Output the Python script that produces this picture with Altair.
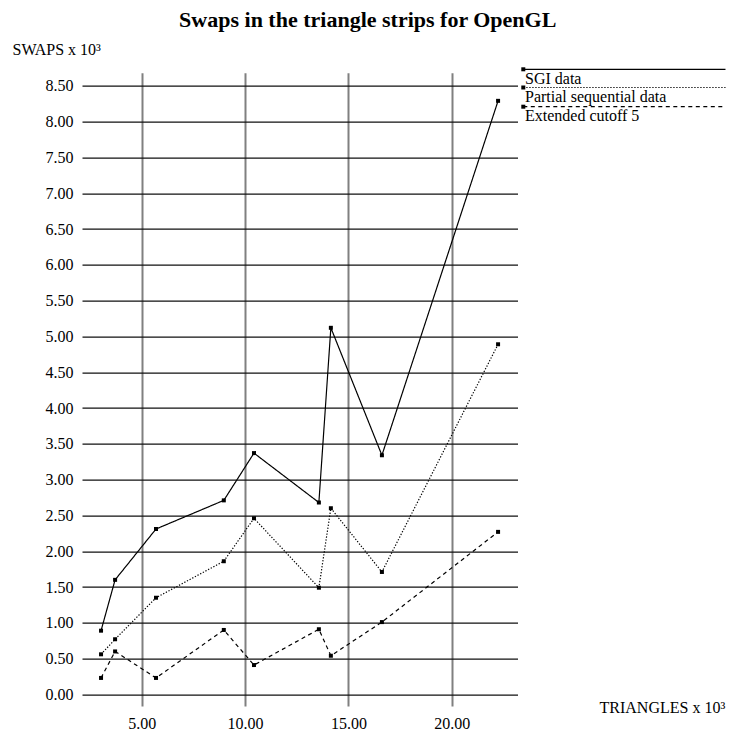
import altair as alt
import pandas as pd

# ---- data ----
triangles = [3.03, 3.71, 5.69, 8.97, 10.43, 13.57, 14.15, 16.62, 22.24]
sgi_data = [0.89, 1.60, 2.31, 2.71, 3.37, 2.68, 5.12, 3.34, 8.29]
partial_seq = [0.56, 0.77, 1.35, 1.86, 2.46, 1.49, 2.60, 1.71, 4.89]
extended_cut5 = [0.23, 0.60, 0.23, 0.90, 0.41, 0.91, 0.54, 1.01, 2.27]
series_names = ["SGI data", "Partial sequential data", "Extended cutoff 5"]
x_ticks = [5, 10, 15, 20]
y_ticks = [i * 0.5 for i in range(18)]

rows = []
for name, vals in zip(series_names, [sgi_data, partial_seq, extended_cut5]):
    for xv, yv in zip(triangles, vals):
        rows.append({"series": name, "x": xv, "y": yv})
df = pd.DataFrame(rows)
leg_df = pd.DataFrame({"series": series_names})

FONT = "Liberation Serif"
dashes = [[1, 0], [1.3, 1.7], [4, 3.5]]

xenc = alt.X(
    "x:Q",
    scale=alt.Scale(domain=[2.109, 23.18], nice=False, zero=False),
    axis=alt.Axis(
        values=x_ticks, format=".2f", title="TRIANGLES x 10³",
        grid=True, gridColor="#808080", gridWidth=2, gridOpacity=1,
        domain=False, ticks=False, tickSize=0, labelPadding=9,
        labelFont=FONT, labelFontSize=16, labelColor="black",
        titleFont=FONT, titleFontSize=16, titleFontWeight="normal", titleColor="black",
        titleX=517, titleY=6, titleAlign="left", titleBaseline="alphabetic",
    ),
)
yenc = alt.Y(
    "y:Q",
    scale=alt.Scale(domain=[-0.162, 8.683], nice=False, zero=False),
    axis=alt.Axis(
        values=y_ticks, format=".2f", title="SWAPS x 10³",
        grid=True, gridColor="#111111", gridWidth=1.2, gridOpacity=1,
        domain=False, ticks=False, tickSize=0, labelPadding=9,
        labelFont=FONT, labelFontSize=16, labelColor="black",
        titleFont=FONT, titleFontSize=16, titleFontWeight="normal", titleColor="black",
        titleAngle=0, titleX=-70, titleY=-17.7, titleAlign="left", titleBaseline="alphabetic",
    ),
)

base = alt.Chart(df)
lines = base.mark_line(color="black", strokeWidth=1.2).encode(
    x=xenc, y=yenc,
    strokeDash=alt.StrokeDash("series:N", scale=alt.Scale(domain=series_names, range=dashes), legend=None),
    detail="series:N",
)
points = base.mark_square(color="black", size=16, opacity=1).encode(x=xenc, y=yenc)

# ---- hand-drawn legend to the right of the plot ----
leg_line_y = [-3.4, 14.8, 34.0]
leg_text_y = [11.2, 29.4, 48.0]
legend_layers = []
for i, name in enumerate(series_names):
    sub = alt.Chart(leg_df).transform_filter(alt.datum.series == name)
    legend_layers.append(
        sub.mark_rule(color="black", strokeWidth=1.2, strokeDash=dashes[i]).encode(
            x=alt.value(441.3), x2=alt.value(643.5), y=alt.value(leg_line_y[i])
        )
    )
    legend_layers.append(
        sub.mark_square(color="black", size=16, opacity=1).encode(
            x=alt.value(441.3), y=alt.value(leg_line_y[i])
        )
    )
    legend_layers.append(
        sub.mark_text(align="left", baseline="alphabetic", font=FONT, fontSize=16, color="black").encode(
            x=alt.value(443), y=alt.value(leg_text_y[i]), text="series:N"
        )
    )

chart = alt.layer(lines, points, *legend_layers).properties(
    width=435.5,
    height=633.3,
    title=alt.TitleParams(
        "Swaps in the triangle strips for OpenGL",
        font=FONT, fontSize=22, fontWeight="bold", color="black",
        anchor="middle", dx=68, offset=10,
    ),
    autosize=alt.AutoSizeParams(type="none"),
    padding={"left": 74, "top": 64.7, "right": 208.5, "bottom": 26},
).configure_view(stroke=None)

chart.save("out.html", embed_options={"renderer": "svg", "actions": False})
